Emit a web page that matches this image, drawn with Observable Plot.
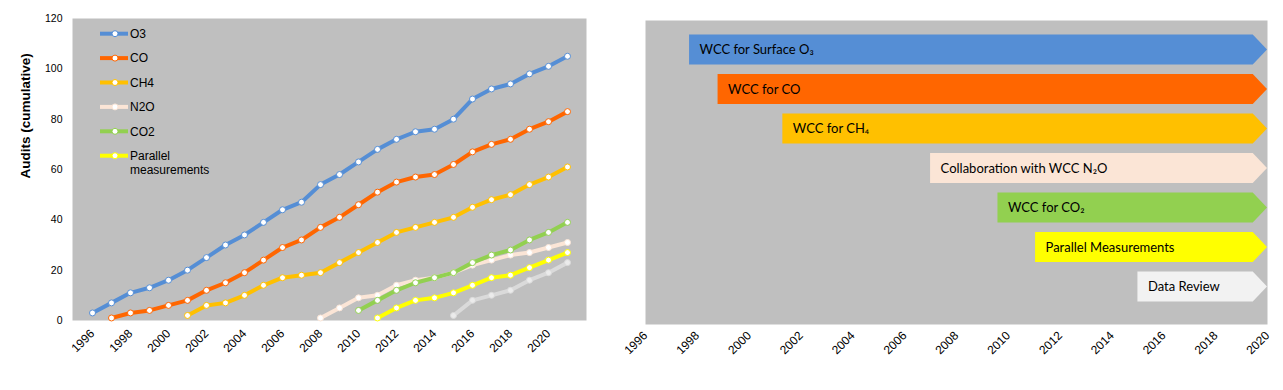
<!DOCTYPE html>
<html><head><meta charset="utf-8">
<script src="https://cdn.jsdelivr.net/npm/d3@7"></script>
<script src="https://cdn.jsdelivr.net/npm/@observablehq/plot@0.6"></script>
<style>
body{margin:0;background:#fff;}
#wrap{display:flex;width:1283px;height:390px;}
#left{position:relative;width:600px;height:390px;}
#right{width:683px;height:390px;}
#legend{position:absolute;left:0;top:0;}
</style></head><body>
<div id="wrap"><div id="left"></div><div id="right"></div></div>
<script>
// ---------- Left chart data ----------
const years = [1996,1997,1998,1999,2000,2001,2002,2003,2004,2005,2006,2007,2008,2009,2010,2011,2012,2013,2014,2015,2016,2017,2018,2019,2020,2021];
const tickYears = [1996,1998,2000,2002,2004,2006,2008,2010,2012,2014,2016,2018,2020];
const yTicks = [0,20,40,60,80,100,120];
const yTitle = "Audits (cumulative)";

const o3       = [3,7,11,13,16,20,25,30,34,39,44,47,54,58,63,68,72,75,76,80,88,92,94,98,101,105];
const co       = [null,1,3,4,6,8,12,15,19,24,29,32,37,41,46,51,55,57,58,62,67,70,72,76,79,83];
const ch4      = [null,null,null,null,null,2,6,7,10,14,17,18,19,23,27,31,35,37,39,41,45,48,50,54,57,61];
const n2o      = [null,null,null,null,null,null,null,null,null,null,null,null,1,5,9,10,14,16,17,19,22,24,26,27,29,31];
const co2      = [null,null,null,null,null,null,null,null,null,null,null,null,null,null,4,8,12,15,17,19,23,26,28,32,35,39];
const parallel = [null,null,null,null,null,null,null,null,null,null,null,null,null,null,null,1,5,8,9,11,14,17,18,21,24,27];
const review   = [null,null,null,null,null,null,null,null,null,null,null,null,null,null,null,null,null,null,null,2,8,10,12,16,19,23];

const seriesNames  = ["O3","CO","CH4","N2O","CO2","Parallel measurements","Data review"];
const seriesValues = [o3, co, ch4, n2o, co2, parallel, review];
const seriesColors = ["#558ED5","#FF6600","#FFC000","#FBE5D6","#92D050","#FFFF00","#DADADA"];
const markerFills  = ["#fff","#fff","#fff","#fff","#fff","#fff","#EBEBEB"];
const legendLabels = [["O3"],["CO"],["CH4"],["N2O"],["CO2"],["Parallel","measurements"]];

// ---------- Right chart data ----------
const tasks = ["WCC for Surface O₃","WCC for CO","WCC for CH₄","Collaboration with WCC N₂O","WCC for CO₂","Parallel Measurements","Data Review"];
const taskStart = [1997.7, 1998.8, 2001.3, 2007.0, 2009.6, 2011.05, 2015.0];
const taskEnd = 2020;
const taskColors = ["#558ED5","#FF6600","#FFC000","#FBE5D6","#92D050","#FFFF00","#F2F2F2"];
const xTicksRight = [1996,1998,2000,2002,2004,2006,2008,2010,2012,2014,2016,2018,2020];

// ---------- Left chart ----------
const leftMarks = [Plot.frame({fill:"#BFBFBF", stroke:"none"})];
seriesNames.forEach((name, s) => {
  const data = years.map((yr, i) => ({year: yr, value: seriesValues[s][i]})).filter(d => d.value != null);
  leftMarks.push(Plot.line(data, {x:"year", y:"value", stroke: seriesColors[s], strokeWidth: 4}));
  leftMarks.push(Plot.dot(data, {x:"year", y:"value", r:3, fill: markerFills[s], stroke: seriesColors[s], strokeWidth: 1}));
});
leftMarks.push(Plot.axisX({ticks: tickYears, tickFormat: d => String(d), tickRotate: -45, tickSize: 0, tickPadding: 11, fontSize: 12, label: null}));
leftMarks.push(Plot.axisY({ticks: yTicks, tickSize: 0, tickPadding: 10, fontSize: 10.5, label: null}));
leftMarks.push(Plot.text([yTitle], {frameAnchor:"left", text: d => d, rotate: -90, dx: -47, dy: 9, fontWeight: "bold", fontSize: 13.5}));

const left = Plot.plot({
  width: 600, height: 390,
  marginLeft: 72, marginRight: 14, marginTop: 18, marginBottom: 70,
  style: {fontFamily: "Liberation Sans, Arial, sans-serif", background: "transparent", color: "#000"},
  x: {type: "point", domain: years, padding: 0.5, label: null},
  y: {domain: [0, 120], label: null},
  marks: leftMarks
});
document.getElementById("left").appendChild(left);

// Legend overlay (inside the plot area, top-left)
const lg = d3.select("#left").append("svg").attr("id","legend").attr("width",260).attr("height",190)
  .style("font-family","Liberation Sans, Arial, sans-serif").style("font-size","12px");
legendLabels.forEach((lines, i) => {
  const cy = 33.7 + 24.4 * i;
  lg.append("line").attr("x1",100).attr("x2",128).attr("y1",cy).attr("y2",cy)
    .attr("stroke",seriesColors[i]).attr("stroke-width",4);
  lg.append("circle").attr("cx",115).attr("cy",cy).attr("r",3).attr("fill","#fff")
    .attr("stroke",seriesColors[i]).attr("stroke-width",1);
  const t = lg.append("text").attr("x",130).attr("y",cy).attr("fill","#000");
  lines.forEach((ln, j) => t.append("tspan").attr("x",130).attr("dy", j === 0 ? "0.35em" : "1.2em").text(ln));
});

// ---------- Right chart ----------
const tipDepth = 0.55, half = 0.38;
const chevrons = tasks.flatMap((t, i) => [
  {task: t, y: i - half, x1: taskStart[i], x2: taskEnd - tipDepth, c: taskColors[i]},
  {task: t, y: i,        x1: taskStart[i], x2: taskEnd,            c: taskColors[i]},
  {task: t, y: i + half, x1: taskStart[i], x2: taskEnd - tipDepth, c: taskColors[i]}
]);
const right = Plot.plot({
  width: 683, height: 390,
  marginLeft: 45, marginRight: 16, marginTop: 20, marginBottom: 66,
  style: {fontFamily: "Liberation Sans, Arial, sans-serif", background: "transparent", color: "#000"},
  x: {domain: [1996, 2020], label: null},
  y: {domain: [-0.75, 6.95], reverse: true, axis: null},
  color: {type: "identity"},
  marks: [
    Plot.frame({fill: "#BFBFBF", stroke: "none"}),
    Plot.areaX(chevrons, {x1: "x1", x2: "x2", y: "y", z: "task", fill: "c"}),
    Plot.text(tasks, {x: (d, i) => taskStart[i], y: (d, i) => i, text: d => d, dx: 10, textAnchor: "start",
      fill: "#000", fontSize: 13, fontFamily: "Lato, sans-serif"}),
    Plot.axisX({ticks: xTicksRight, tickFormat: d => String(d), tickRotate: -45, tickSize: 0, tickPadding: 9, fontSize: 12, label: null})
  ]
});
document.getElementById("right").appendChild(right);
</script>
</body></html>
